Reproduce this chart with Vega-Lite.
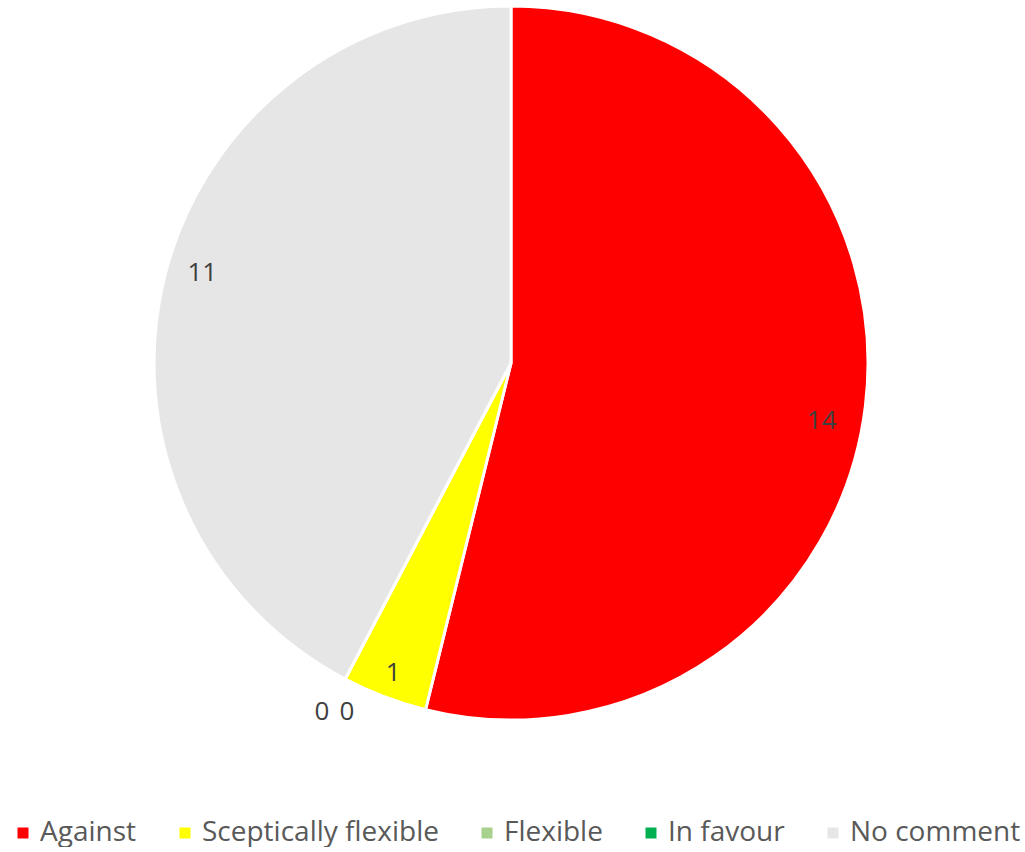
{
  "$schema": "https://vega.github.io/schema/vega-lite/v6.json",
  "width": 1022,
  "height": 726,
  "padding": 0,
  "background": "white",
  "config": {"view": {"stroke": null}, "font": "Open Sans"},
  "data": {"values": [
    {"category": "Against", "value": 14, "idx": 1},
    {"category": "Sceptically flexible", "value": 1, "idx": 2},
    {"category": "Flexible", "value": 0, "idx": 3},
    {"category": "In favour", "value": 0, "idx": 4},
    {"category": "No comment", "value": 11, "idx": 5}
  ]},
  "encoding": {
    "theta": {"field": "value", "type": "quantitative", "stack": true},
    "order": {"field": "idx", "type": "quantitative"}
  },
  "layer": [
    {
      "mark": {"type": "arc", "outerRadius": 357, "stroke": "white", "strokeWidth": 3},
      "encoding": {
        "color": {
          "field": "category", "type": "nominal",
          "scale": {
            "domain": ["Against", "Sceptically flexible", "Flexible", "In favour", "No comment"],
            "range": ["#FF0000", "#FFFF00", "#A9D18E", "#00B050", "#E7E6E6"]
          },
          "legend": {
            "title": null, "orient": "none", "direction": "horizontal",
            "legendX": 9, "legendY": 819,
            "symbolType": "square", "symbolSize": 121, "symbolStrokeWidth": 0,
            "labelFontSize": 28, "labelColor": "#595959", "labelFont": "Open Sans",
            "labelOffset": 3, "columnPadding": 34, "symbolOpacity": 1, "labelLimit": 400
          }
        }
      }
    },
    {
      "mark": {"type": "text", "radius": 318, "dx": -5, "dy": 20, "fontSize": 26, "color": "#404040"},
      "encoding": {
        "text": {"field": "value", "type": "quantitative"},
        "opacity": {"condition": {"test": "datum.category === 'Against'", "value": 1}, "value": 0}
      }
    },
    {
      "mark": {"type": "text", "radius": 318, "dy": -14, "fontSize": 26, "color": "#404040"},
      "encoding": {
        "text": {"field": "value", "type": "quantitative"},
        "opacity": {"condition": {"test": "datum.category === 'No comment'", "value": 1}, "value": 0}
      }
    },
    {
      "mark": {"type": "text", "radius": 332, "fontSize": 26, "color": "#404040"},
      "encoding": {
        "text": {"field": "value", "type": "quantitative"},
        "opacity": {"condition": {"test": "datum.category === 'Sceptically flexible'", "value": 1}, "value": 0}
      }
    },
    {
      "mark": {"type": "text", "radius": 394, "dx": -6, "fontSize": 26, "color": "#404040"},
      "encoding": {
        "text": {"field": "value", "type": "quantitative"},
        "opacity": {"condition": {"test": "datum.category === 'Flexible'", "value": 1}, "value": 0}
      }
    },
    {
      "mark": {"type": "text", "radius": 394, "dx": 19, "fontSize": 26, "color": "#404040"},
      "encoding": {
        "text": {"field": "value", "type": "quantitative"},
        "opacity": {"condition": {"test": "datum.category === 'In favour'", "value": 1}, "value": 0}
      }
    }
  ]
}
